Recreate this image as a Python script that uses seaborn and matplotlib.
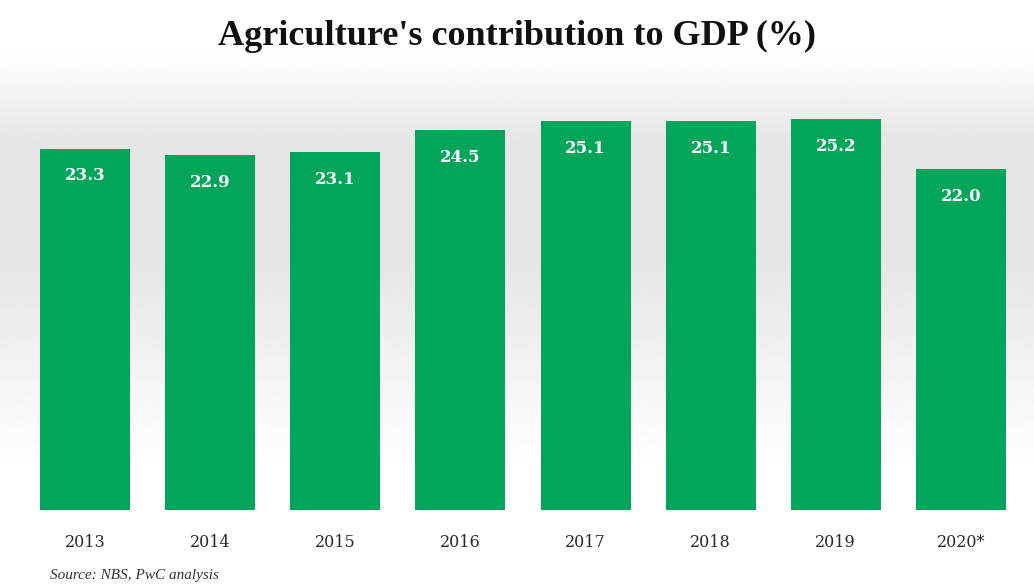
import numpy as np
import pandas as pd
import matplotlib
matplotlib.use("Agg")
import matplotlib.pyplot as plt
import seaborn as sns

years = ["2013", "2014", "2015", "2016", "2017", "2018", "2019", "2020*"]
values = [23.3, 22.9, 23.1, 24.5, 25.1, 25.1, 25.2, 22.0]
value_labels = ["23.3", "22.9", "23.1", "24.5", "25.1", "25.1", "25.2", "22.0"]
title = "Agriculture's contribution to GDP (%)"
source = "Source: NBS, PwC analysis"

df = pd.DataFrame({"year": years, "value": values})

sns.set_theme(style="white")
plt.rcParams['font.family'] = ['Liberation Serif', 'DejaVu Serif']

W, H = 1034, 588
fig = plt.figure(figsize=(W / 100, H / 100), dpi=100)

# background gradient
bg = fig.add_axes([0, 0, 1, 1], zorder=0)
yy = np.linspace(0, 1, 300)  # 0 = top
def shade(t):
    p = t * H
    if p < 50:
        return 1.0
    if p < 140:
        return 1.0 - 0.10 * (p - 50) / 90
    if p < 260:
        return 0.90
    if p < 470:
        return 0.90 + 0.10 * (p - 260) / 210
    return 1.0
grad = np.array([[shade(t)] for t in yy])
bg.imshow(grad, aspect="auto", cmap="gray", vmin=0, vmax=1, extent=[0, 1, 0, 1])
bg.set_axis_off()

ax = fig.add_axes([22.5 / W, (H - 510) / H, 1001 / W, 410 / H], zorder=1)
ax.patch.set_alpha(0)
sns.barplot(data=df, x="year", y="value", color="#03A55B", saturation=1,
            width=0.72, linewidth=0, ax=ax)
ax.set_ylim(0, 410 / 15.5)
ax.set_xlim(-0.5, 7.5)
ax.set_xlabel("")
ax.set_ylabel("")
ax.set_yticks([])
for s in ax.spines.values():
    s.set_visible(False)
ax.tick_params(axis="x", length=0, pad=17, colors="#2a2a2a")
for lab in ax.get_xticklabels():
    lab.set_fontfamily("DejaVu Serif")
    lab.set_fontsize(11.5)

for i, (v, lab) in enumerate(zip(values, value_labels)):
    ax.text(i, v - 1.75, lab, ha="center", va="center", color="white",
            fontsize=12, fontweight="bold", family="DejaVu Serif")

fig.text(0.5, 1 - 36 / H, title, ha="center", va="center", fontsize=26,
         fontweight="bold", color="#111111")
fig.text(50 / W, 1 - 576 / H, source, ha="left", va="center", fontsize=11,
         style="italic", color="#333333")

fig.savefig("out.png", dpi=100)
